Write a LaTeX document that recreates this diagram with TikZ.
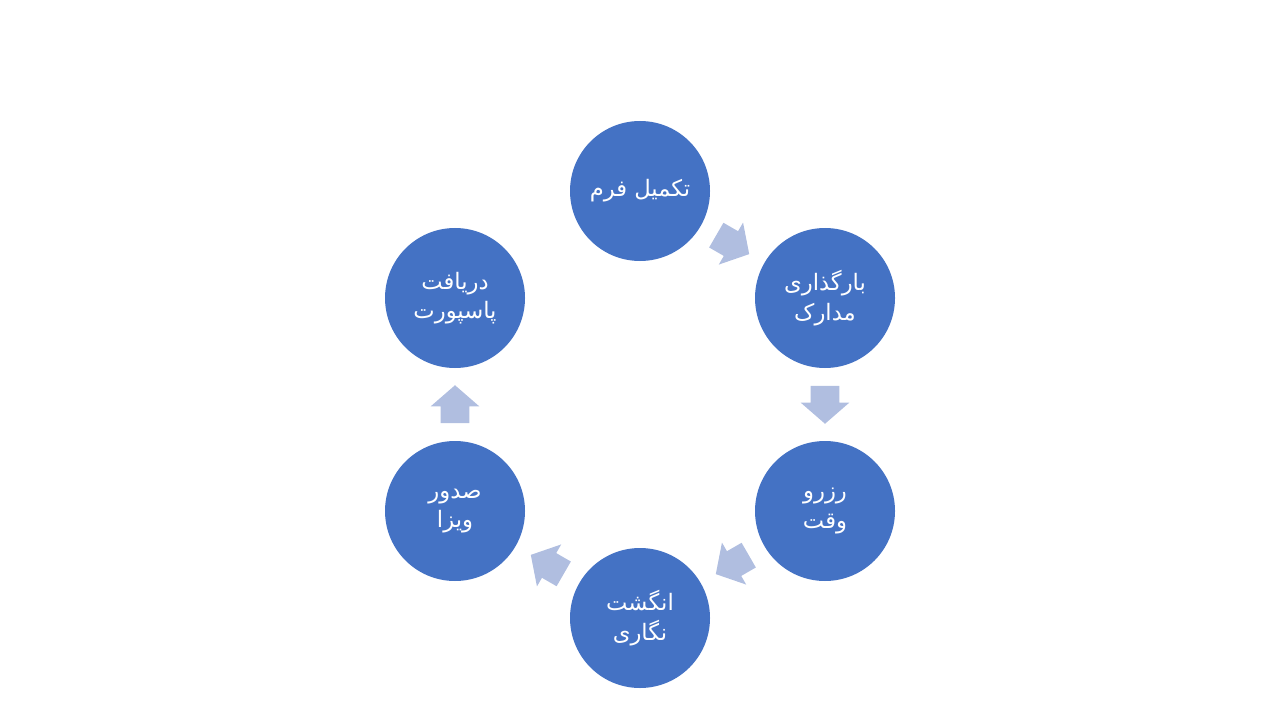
\documentclass[tikz,border=0pt]{standalone}
\usepackage{fontspec}
\newfontfamily\arabicfont[Script=Arabic]{DejaVu Sans}
\TeXXeTstate=1
\usetikzlibrary{shapes.arrows,calc}
\definecolor{circblue}{HTML}{4472C4}
\definecolor{arrblue}{HTML}{B0BEE0}
\tikzset{
  stepcirc/.style={circle,fill=circblue,draw=none,minimum size=105pt,inner sep=0pt,
    text=white,align=center,font=\arabicfont\fontsize{17}{22}\selectfont},
  steparrow/.style={single arrow,fill=arrblue,draw=none,minimum height=28.5pt,
    minimum width=36pt,single arrow head extend=7.5pt,single arrow tip angle=98,
    inner xsep=0pt,inner ysep=10.5pt,anchor=tail}
}
\begin{document}
\begin{tikzpicture}[x=0.75pt,y=-0.75pt]
\useasboundingbox (0,0) rectangle (1280,720);
\node[stepcirc] (c1) at (640,191) {\beginR تکمیل فرم\endR};
\node[stepcirc] (c2) at (825,298) {\beginR بارگذاری\endR\\\beginR مدارک\endR};
\node[stepcirc] (c3) at (825,511) {\beginR رزرو\endR\\\beginR وقت\endR};
\node[stepcirc] (c4) at (640,618) {\beginR انگشت\endR\\\beginR نگاری\endR};
\node[stepcirc] (c5) at (455,511) {\beginR صدور\endR\\\beginR ویزا\endR};
\node[stepcirc] (c6) at (455,298) {\beginR دریافت\endR\\\beginR پاسپورت\endR};
\node[steparrow,rotate=-30] (a12) at ($(c1)!0.5!(c2)!14.25pt!(c1)$) {};
\node[steparrow,rotate=-90] (a23) at ($(c2)!0.5!(c3)!14.25pt!(c2)$) {};
\node[steparrow,rotate=-150] (a34) at ($(c3)!0.5!(c4)!14.25pt!(c3)$) {};
\node[steparrow,rotate=150] (a45) at ($(c4)!0.5!(c5)!14.25pt!(c4)$) {};
\node[steparrow,rotate=90] (a56) at ($(c5)!0.5!(c6)!14.25pt!(c5)$) {};
\end{tikzpicture}
\end{document}
